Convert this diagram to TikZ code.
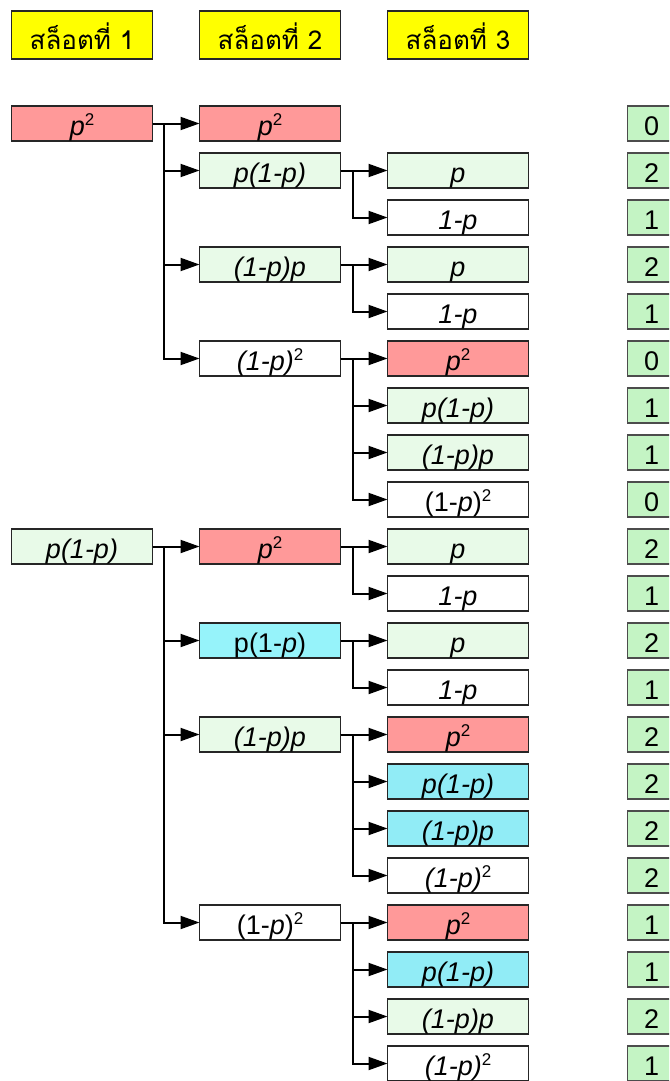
\documentclass[tikz,border=0pt]{standalone}
\usepackage{fontspec}
\setmainfont{Liberation Sans}
\newfontfamily\thaifont[Script=Thai]{Loma}
\usepackage{tikz}
\usetikzlibrary{arrows.meta, positioning}
\definecolor{slotyellow}{RGB}{255,255,0}
\definecolor{hitred}{RGB}{255,153,153}
\definecolor{palegreen}{RGB}{232,250,232}
\definecolor{mintgreen}{RGB}{196,244,196}
\definecolor{skycyan}{RGB}{150,243,250}
\definecolor{gridcyan}{RGB}{145,236,246}
\newcommand{\sqtwo}{\raisebox{10pt}{\fontsize{17}{17}\selectfont 2}}

\begin{document}
\begin{tikzpicture}[
  x=1pt, y=-1pt,
  node distance=12pt and 47pt,
  box/.style={rectangle, draw=black!85, line width=1.3pt, minimum width=141pt, minimum height=35pt, inner sep=0pt, outer sep=0pt, text height=23pt, text depth=0pt, font=\fontsize{27}{30}\selectfont},
  redbox/.style={box, fill=hitred},
  greenbox/.style={box, fill=palegreen},
  whitebox/.style={box, fill=white},
  cyanbox/.style={box, fill=skycyan},
  gridbox/.style={box, fill=gridcyan},
  slot/.style={rectangle, draw=black!85, line width=1.3pt, fill=slotyellow, minimum width=141pt, minimum height=48pt, inner sep=0pt, outer sep=0pt, text height=28pt, text depth=0pt, font=\thaifont\fontsize{26}{30}\selectfont},
  numbox/.style={rectangle, draw=black!70, line width=1.3pt, fill=mintgreen, minimum width=48pt, minimum height=35pt, inner sep=0pt, outer sep=0pt, text height=23pt, text depth=0pt, font=\fontsize{27}{30}\selectfont},
  arrow/.style={line width=2pt, -{Triangle[length=19pt, width=13pt]}}
]
\useasboundingbox (0,0) rectangle (669,1081);
\clip (0,0) rectangle (669,1081);

% Slot 3
\node[greenbox] (s3r2) at (458,170.5) {\textit{p}};
\node[whitebox, below=of s3r2] (s3r3) {\textit{1-p}};
\node[greenbox, below=of s3r3] (s3r4) {\textit{p}};
\node[whitebox, below=of s3r4] (s3r5) {\textit{1-p}};
\node[redbox, below=of s3r5] (s3r6) {\textit{p}\sqtwo};
\node[greenbox, below=of s3r6] (s3r7) {\textit{p(1-p)}};
\node[greenbox, below=of s3r7] (s3r8) {\textit{(1-p)p}};
\node[whitebox, below=of s3r8] (s3r9) {(1-\textit{p})\sqtwo};
\node[greenbox, below=of s3r9] (s3r10) {\textit{p}};
\node[whitebox, below=of s3r10] (s3r11) {\textit{1-p}};
\node[greenbox, below=of s3r11] (s3r12) {\textit{p}};
\node[whitebox, below=of s3r12] (s3r13) {\textit{1-p}};
\node[redbox, below=of s3r13] (s3r14) {\textit{p}\sqtwo};
\node[gridbox, below=of s3r14] (s3r15) {\textit{p(1-p)}};
\node[gridbox, below=of s3r15] (s3r16) {\textit{(1-p)p}};
\node[whitebox, below=of s3r16] (s3r17) {\textit{(1-p)}\sqtwo};
\node[redbox, below=of s3r17] (s3r18) {\textit{p}\sqtwo};
\node[gridbox, below=of s3r18] (s3r19) {\textit{p(1-p)}};
\node[greenbox, below=of s3r19] (s3r20) {\textit{(1-p)p}};
\node[whitebox, below=of s3r20] (s3r21) {\textit{(1-p)}\sqtwo};

% Slot 2
\node[greenbox, left=of s3r2] (s2r2) {\textit{p(1-p)}};
\node[redbox, above=of s2r2] (s2r1) {\textit{p}\sqtwo};
\node[greenbox, left=of s3r4] (s2r4) {\textit{(1-p)p}};
\node[whitebox, left=of s3r6] (s2r6) {\textit{(1-p)}\sqtwo};
\node[redbox, left=of s3r10] (s2r10) {\textit{p}\sqtwo};
\node[cyanbox, left=of s3r12] (s2r12) {p(1-\textit{p})};
\node[greenbox, left=of s3r14] (s2r14) {\textit{(1-p)p}};
\node[whitebox, left=of s3r18] (s2r18) {(1-\textit{p})\sqtwo};

% Slot 1
\node[redbox, left=of s2r1] (s1r1) {\textit{p}\sqtwo};
\node[greenbox, left=of s2r10] (s1r10) {\textit{p(1-p)}};

% Headers
\node[slot, above=47pt of s1r1] (slot1) {สล็อตที่ 1};
\node[slot, above=47pt of s2r1] (slot2) {สล็อตที่ 2};
\node[slot, right=of slot2] (slot3) {สล็อตที่ 3};

% Counts
\node[numbox, right=99pt of s3r2] (n2) {2};
\node[numbox, above=of n2] (n1) {0};
\node[numbox, right=99pt of s3r3] (n3) {1};
\node[numbox, right=99pt of s3r4] (n4) {2};
\node[numbox, right=99pt of s3r5] (n5) {1};
\node[numbox, right=99pt of s3r6] (n6) {0};
\node[numbox, right=99pt of s3r7] (n7) {1};
\node[numbox, right=99pt of s3r8] (n8) {1};
\node[numbox, right=99pt of s3r9] (n9) {0};
\node[numbox, right=99pt of s3r10] (n10) {2};
\node[numbox, right=99pt of s3r11] (n11) {1};
\node[numbox, right=99pt of s3r12] (n12) {2};
\node[numbox, right=99pt of s3r13] (n13) {1};
\node[numbox, right=99pt of s3r14] (n14) {2};
\node[numbox, right=99pt of s3r15] (n15) {2};
\node[numbox, right=99pt of s3r16] (n16) {2};
\node[numbox, right=99pt of s3r17] (n17) {2};
\node[numbox, right=99pt of s3r18] (n18) {1};
\node[numbox, right=99pt of s3r19] (n19) {1};
\node[numbox, right=99pt of s3r20] (n20) {2};
\node[numbox, right=99pt of s3r21] (n21) {1};

% Arrows
\draw[arrow] (s1r1.east) -- ++(11,0) |- (s2r1.west);
\draw[arrow] (s1r1.east) -- ++(11,0) |- (s2r2.west);
\draw[arrow] (s1r1.east) -- ++(11,0) |- (s2r4.west);
\draw[arrow] (s1r1.east) -- ++(11,0) |- (s2r6.west);
\draw[arrow] (s2r2.east) -- ++(12,0) |- (s3r2.west);
\draw[arrow] (s2r2.east) -- ++(12,0) |- (s3r3.west);
\draw[arrow] (s2r4.east) -- ++(12,0) |- (s3r4.west);
\draw[arrow] (s2r4.east) -- ++(12,0) |- (s3r5.west);
\draw[arrow] (s2r6.east) -- ++(12,0) |- (s3r6.west);
\draw[arrow] (s2r6.east) -- ++(12,0) |- (s3r7.west);
\draw[arrow] (s2r6.east) -- ++(12,0) |- (s3r8.west);
\draw[arrow] (s2r6.east) -- ++(12,0) |- (s3r9.west);
\draw[arrow] (s1r10.east) -- ++(11,0) |- (s2r10.west);
\draw[arrow] (s1r10.east) -- ++(11,0) |- (s2r12.west);
\draw[arrow] (s1r10.east) -- ++(11,0) |- (s2r14.west);
\draw[arrow] (s1r10.east) -- ++(11,0) |- (s2r18.west);
\draw[arrow] (s2r10.east) -- ++(12,0) |- (s3r10.west);
\draw[arrow] (s2r10.east) -- ++(12,0) |- (s3r11.west);
\draw[arrow] (s2r12.east) -- ++(12,0) |- (s3r12.west);
\draw[arrow] (s2r12.east) -- ++(12,0) |- (s3r13.west);
\draw[arrow] (s2r14.east) -- ++(12,0) |- (s3r14.west);
\draw[arrow] (s2r14.east) -- ++(12,0) |- (s3r15.west);
\draw[arrow] (s2r14.east) -- ++(12,0) |- (s3r16.west);
\draw[arrow] (s2r14.east) -- ++(12,0) |- (s3r17.west);
\draw[arrow] (s2r18.east) -- ++(12,0) |- (s3r18.west);
\draw[arrow] (s2r18.east) -- ++(12,0) |- (s3r19.west);
\draw[arrow] (s2r18.east) -- ++(12,0) |- (s3r20.west);
\draw[arrow] (s2r18.east) -- ++(12,0) |- (s3r21.west);

\end{tikzpicture}
\end{document}
